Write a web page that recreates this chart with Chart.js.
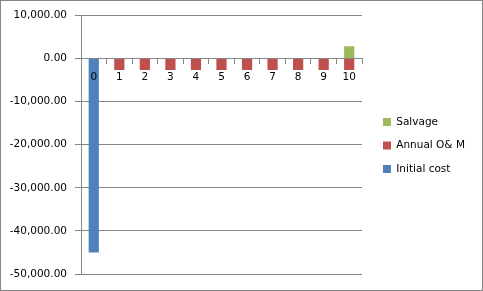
<!DOCTYPE html>
<html>
<head>
<meta charset="utf-8">
<script src="https://cdn.jsdelivr.net/npm/chart.js@4"></script>
<style>
  body { margin: 0; background: #fff; }
  #wrap { width: 483px; height: 291px; box-sizing: border-box; border: 1px solid #868686; }
  canvas { display: block; }
</style>
</head>
<body>
<div id="wrap"><canvas id="myChart" width="481" height="289"></canvas></div>
<script>
const years = ["0", "1", "2", "3", "4", "5", "6", "7", "8", "9", "10"];
const initialCost = [-45000, null, null, null, null, null, null, null, null, null, null];
const annualOM = [null, -2700, -2700, -2700, -2700, -2700, -2700, -2700, -2700, -2700, -2700];
const salvage = [null, null, null, null, null, null, null, null, null, null, 2800];
const yTicks = [10000, 0, -10000, -20000, -30000, -40000, -50000];

const canvas = document.getElementById("myChart");
const gridColor = "#868686";
const tickFont = { family: "DejaVu Sans", size: 10.5 };

// legend takes fixed width at the right, then is nudged right of the plot
const legendBox = {
  id: "legendBox",
  beforeLayout(chart) {
    const lg = chart.legend;
    if (lg && !lg._wrapped) {
      const fit = lg.fit;
      lg.fit = function () {
        fit.call(this);
        this.width = 120;
      };
      lg._wrapped = true;
    }
  },
  afterLayout(chart) {
    chart.legend.left = chart.chartArea.right + 8;
    chart.legend.top += 2;
  },
};

new Chart(canvas, {
  type: "bar",
  data: {
    labels: years,
    datasets: [
      { label: "Initial cost", data: initialCost, backgroundColor: "#4F81BD" },
      { label: "Annual O& M", data: annualOM, backgroundColor: "#C0504D" },
      { label: "Salvage", data: salvage, backgroundColor: "#9BBB59" },
    ],
  },
  options: {
    responsive: false,
    animation: false,
    layout: { padding: { top: 14, bottom: 16, left: 0, right: 0 } },
    datasets: { bar: { barPercentage: 0.4, categoryPercentage: 1 } },
    plugins: {
      tooltip: { enabled: false },
      legend: {
        position: "right",
        reverse: true,
        labels: {
          boxWidth: 8,
          boxHeight: 8,
          padding: 13,
          color: "#000",
          font: tickFont,
        },
      },
    },
    scales: {
      x: {
        stacked: true,
        position: { y: 0 },
        offset: true,
        grid: {
          offset: true,
          drawOnChartArea: false,
          drawTicks: true,
          tickLength: 5,
          color: gridColor,
          z: 1,
        },
        border: { color: gridColor, z: 1 },
        ticks: { color: "#000", font: tickFont, padding: 8, maxRotation: 0, z: 1 },
      },
      y: {
        stacked: true,
        min: -50000,
        max: 10000,
        afterFit: (s) => { s.width = 80; },
        afterBuildTicks: (s) => { s.ticks = yTicks.map((v) => ({ value: v })); },
        grid: { color: gridColor, tickLength: 6 },
        border: { color: gridColor },
        ticks: {
          color: "#000",
          font: tickFont,
          padding: 8,
          callback: (v) => v.toLocaleString("en-US", { minimumFractionDigits: 2, maximumFractionDigits: 2 }),
        },
      },
    },
  },
  plugins: [legendBox],
});
</script>
</body>
</html>
